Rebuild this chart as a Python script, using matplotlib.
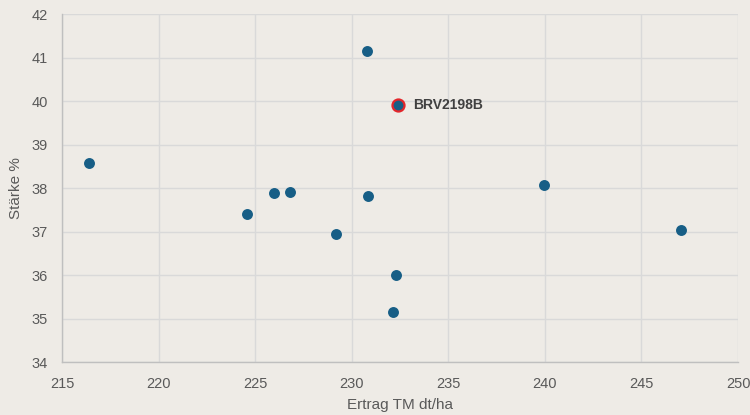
import matplotlib
matplotlib.use("Agg")
import matplotlib.pyplot as plt

ertrag = [216.4, 224.6, 226.0, 226.8, 229.2, 230.8, 230.85, 232.3, 232.15, 239.95, 247.05]
staerke = [38.58, 37.41, 37.89, 37.91, 36.95, 41.15, 37.83, 36.01, 35.15, 38.08, 37.03]
hl_name = "BRV2198B"
hl_x = [232.4]
hl_y = [39.91]
xticks = [215, 220, 225, 230, 235, 240, 245, 250]
yticks = [34, 35, 36, 37, 38, 39, 40, 41, 42]

plt.rcParams['font.family'] = ['Liberation Sans', 'DejaVu Sans']

bg = "#EEEBE6"
fig = plt.figure(figsize=(7.5, 4.15), dpi=100, facecolor=bg)
ax = fig.add_axes([0.0827, 0.1277, 0.9013, 0.8378], facecolor=bg)

ax.scatter(ertrag, staerke, s=62, color="#175E86", zorder=3, linewidths=0)
ax.scatter(hl_x, hl_y, s=75, color="#175E86", edgecolors="#E3262B", linewidths=1.6, zorder=4)
ax.annotate(hl_name, (hl_x[0], hl_y[0]), xytext=(11, 0), textcoords="offset points",
            va="center", ha="left", fontsize=10, fontweight="bold", color="#404040")

ax.set_xlim(215, 250)
ax.set_ylim(34, 42)
ax.set_xticks(xticks)
ax.set_yticks(yticks)
ax.grid(True, color="#D9D9D9", linewidth=1.0, zorder=0)
ax.set_axisbelow(True)
for s in ["top", "right"]:
    ax.spines[s].set_visible(False)
for s in ["left", "bottom"]:
    ax.spines[s].set_color("#BFBFBF")
    ax.spines[s].set_linewidth(1.0)
ax.tick_params(length=0, labelsize=10.5, labelcolor="#595959")
ax.tick_params(axis="x", pad=10.5)
ax.tick_params(axis="y", pad=10)
ax.set_xlabel("Ertrag TM dt/ha", fontsize=11, color="#595959", labelpad=5)
ax.set_ylabel("Stärke %", fontsize=11, color="#595959", labelpad=6)

fig.savefig("out.png", dpi=100, facecolor=bg)
